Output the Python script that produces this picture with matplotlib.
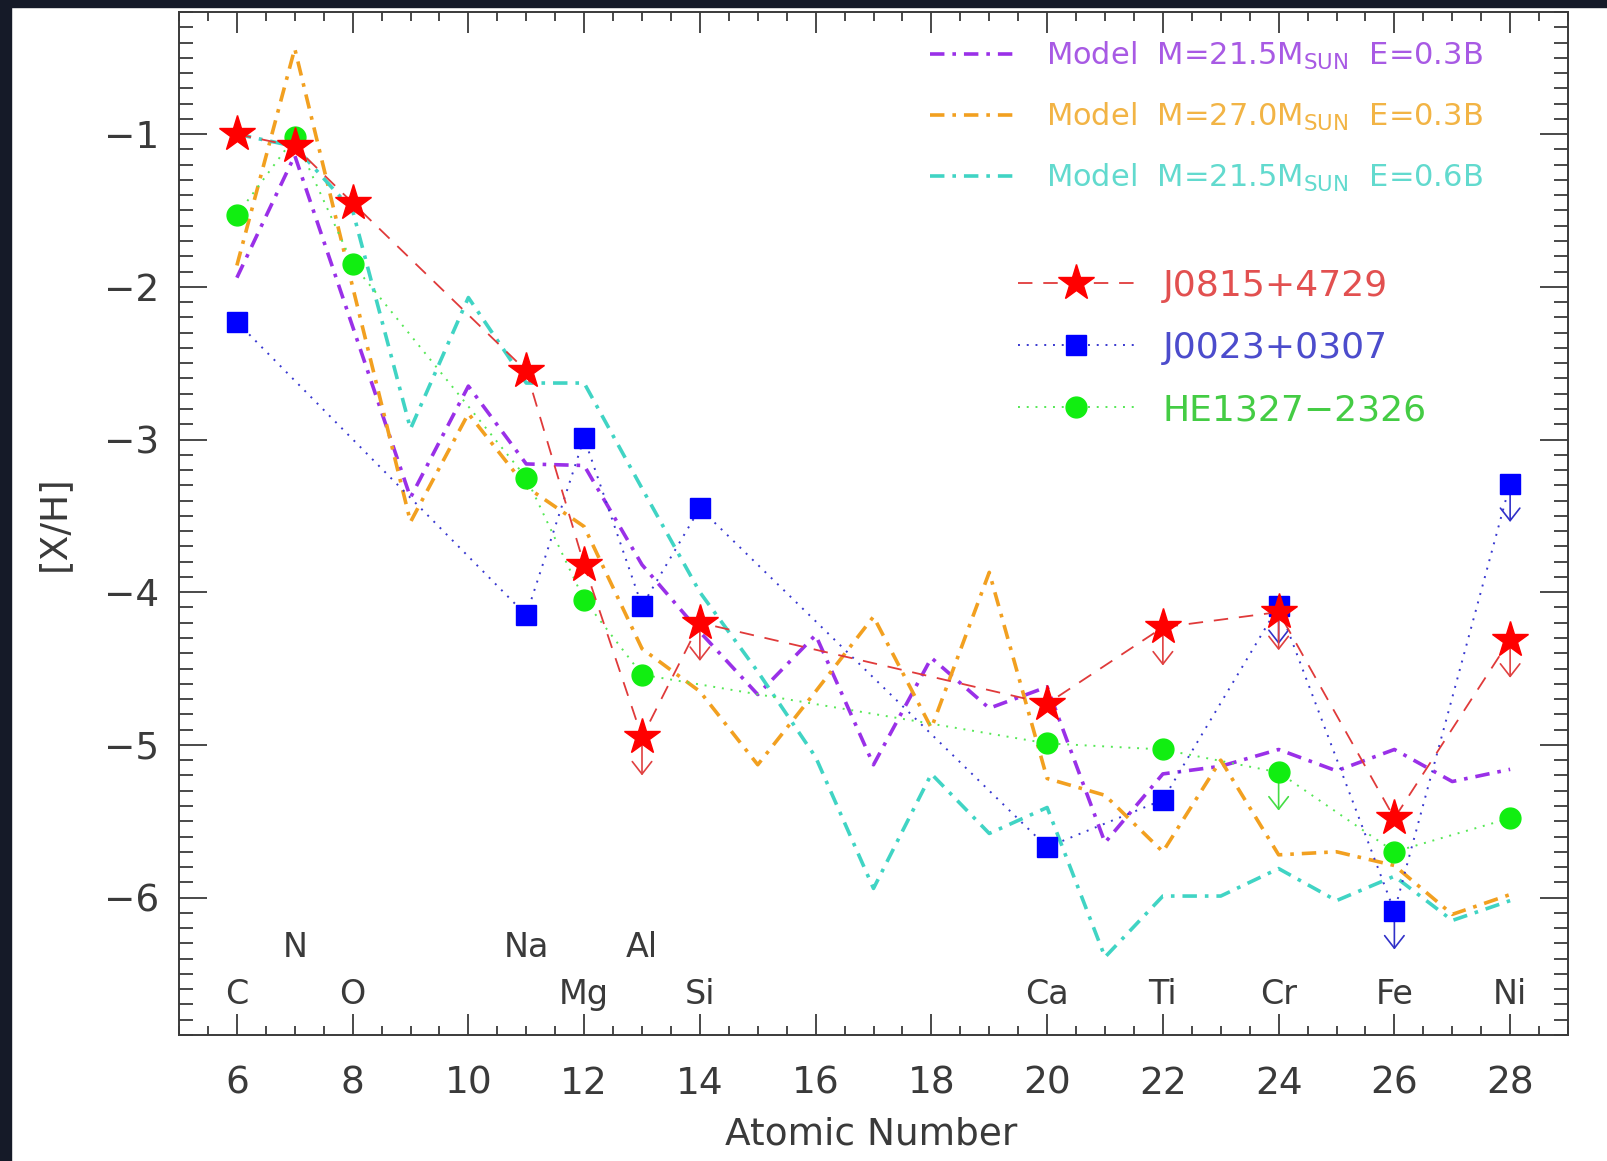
import numpy as np
import matplotlib
matplotlib.use('Agg')
import matplotlib.pyplot as plt
from matplotlib.patches import Rectangle
from matplotlib.ticker import MultipleLocator

# model yields, every Z from 6 to 28
Z_model = np.arange(6, 29)
model_a = [-1.94, -1.14, -2.26, -3.38, -2.65, -3.16, -3.17, -3.82, -4.26, -4.67, -4.28, -5.13,
           -4.43, -4.76, -4.62, -5.64, -5.19, -5.14, -5.03, -5.17, -5.03, -5.24, -5.16]
model_b = [-1.86, -0.44, -2.00, -3.54, -2.83, -3.31, -3.57, -4.37, -4.65, -5.13, -4.65, -4.16,
           -4.89, -3.87, -5.22, -5.33, -5.70, -5.10, -5.72, -5.70, -5.79, -6.11, -5.98]
model_c = [-1.00, -1.08, -1.50, -2.93, -2.07, -2.63, -2.63, -3.32, -4.00, -4.52, -5.08, -5.94,
           -5.19, -5.58, -5.41, -6.39, -5.99, -5.99, -5.81, -6.02, -5.86, -6.15, -6.02]

model_labels = [r'Model  M=21.5M$_{\mathrm{SUN}}$  E=0.3B',
                r'Model  M=27.0M$_{\mathrm{SUN}}$  E=0.3B',
                r'Model  M=21.5M$_{\mathrm{SUN}}$  E=0.6B']

# stars
Z_j0815 = [6, 7, 8, 11, 12, 13, 14, 20, 22, 24, 26, 28]
j0815 = [-1.00, -1.08, -1.45, -2.55, -3.82, -4.95, -4.20, -4.73, -4.23, -4.13, -5.48, -4.31]
j0815_lim = [0, 0, 0, 0, 0, 1, 1, 0, 1, 1, 0, 1]

Z_j0023 = [6, 11, 12, 13, 14, 20, 22, 24, 26, 28]
j0023 = [-2.23, -4.15, -2.99, -4.09, -3.45, -5.67, -5.36, -4.09, -6.09, -3.29]
j0023_lim = [0, 0, 0, 0, 0, 0, 0, 1, 1, 1]

Z_he1327 = [6, 7, 8, 11, 12, 13, 20, 22, 24, 26, 28]
he1327 = [-1.53, -1.02, -1.85, -3.25, -4.05, -4.54, -4.99, -5.03, -5.18, -5.70, -5.48]
he1327_lim = [0, 0, 0, 0, 0, 0, 0, 0, 1, 0, 0]

# element names along the bottom
el_names = ['C', 'N', 'O', 'Na', 'Mg', 'Al', 'Si', 'Ca', 'Ti', 'Cr', 'Fe', 'Ni']
el_Z = [6, 7, 8, 11, 12, 13, 14, 20, 22, 24, 26, 28]
el_row = [0, 1, 0, 1, 0, 1, 0, 0, 0, 0, 0, 0]

txt = '#3a3a3a'
fig = plt.figure(figsize=(16.07, 11.61), dpi=100)
fig.patch.set_facecolor('white')
# dark frame edges of the screenshot
fig.patches.append(Rectangle((0, 0), 11/1607, 1, transform=fig.transFigure, color='#151a28', zorder=-5))
fig.patches.append(Rectangle((0, 1-7/1161), 1, 7/1161, transform=fig.transFigure, color='#151a28', zorder=-5))

ax = fig.add_axes([179/1607, 1-1035/1161, 1389/1607, 1023/1161])

# models
mod_style = dict(lw=2.6, dashes=(4, 2.2, 1, 2.2), dash_capstyle='butt')
la, = ax.plot(Z_model, model_a, color='#9a30e8', zorder=2, **mod_style)
lb, = ax.plot(Z_model, model_b, color='#f2a020', zorder=2, **mod_style)
lc, = ax.plot(Z_model, model_c, color='#40d4c4', zorder=2, **mod_style)

# observed stars
lg, = ax.plot(Z_he1327, he1327, color='#55e855', lw=1.4, ls=(0, (1, 3.5)),
              marker='o', ms=15, mfc='#11ee11', mec='#11ee11', zorder=4)
lbl, = ax.plot(Z_j0023, j0023, color='#3838d0', lw=1.4, ls=(0, (1, 3.5)),
               marker='s', ms=14.5, mfc='#0000ff', mec='#0000ff', zorder=4)
lr, = ax.plot(Z_j0815, j0815, color='#e03a3a', lw=1.3, ls=(0, (8, 6)),
              marker='*', ms=27, mfc='#ff0000', mec='#ff0000', zorder=5)

# upper limits
for zz, vv, lim, col in [(Z_he1327, he1327, he1327_lim, '#44dd44'),
                         (Z_j0023, j0023, j0023_lim, '#3030c8'),
                         (Z_j0815, j0815, j0815_lim, '#e04040')]:
    for z, v, l in zip(zz, vv, lim):
        if l:
            ax.annotate('', xy=(z, v - 0.25), xytext=(z, v),
                        arrowprops=dict(arrowstyle='->,head_length=0.45,head_width=0.35',
                                        color=col, lw=1.2, shrinkA=0, shrinkB=0,
                                        mutation_scale=20), zorder=3)

for name, z, row in zip(el_names, el_Z, el_row):
    ax.text(z, -6.39 if row else -6.70, name, ha='center', va='baseline',
            fontsize=24, color=txt)

ax.set_xlim(5, 29)
ax.set_ylim(-6.9, -0.2)
ax.xaxis.set_major_locator(MultipleLocator(2))
ax.xaxis.set_minor_locator(MultipleLocator(0.5))
ax.yaxis.set_major_locator(MultipleLocator(1))
ax.yaxis.set_minor_locator(MultipleLocator(0.1))
ax.tick_params(axis='both', which='both', direction='in', top=True, right=True,
               color=txt, width=1.3, labelsize=27, labelcolor=txt)
ax.tick_params(axis='x', which='major', length=15, pad=22)
ax.tick_params(axis='x', which='minor', length=6.5)
ax.tick_params(axis='y', which='major', length=20, pad=14)
ax.tick_params(axis='y', which='minor', length=10)
for sp in ax.spines.values():
    sp.set_color(txt)
    sp.set_linewidth(1.4)

ax.set_xlabel('Atomic Number', fontsize=27, color=txt)
ax.xaxis.set_label_coords(0.498, -0.08)
ax.set_ylabel('[X/H]', fontsize=27, color=txt)
ax.yaxis.set_label_coords(-0.077, 0.5)

leg1 = ax.legend([la, lb, lc], model_labels, loc='upper left', bbox_to_anchor=(0.5407, 0.973),
                 frameon=False, fontsize=22, handlelength=2.8, handletextpad=1.0,
                 labelspacing=0.95, borderpad=0, borderaxespad=0)
for t, c in zip(leg1.get_texts(), ['#a85ae4', '#f2b445', '#62dace']):
    t.set_color(c)
ax.add_artist(leg1)

leg2 = ax.legend([lr, lbl, lg], ['J0815+4729', 'J0023+0307', 'HE1327\u22122326'],
                 loc='upper left', bbox_to_anchor=(0.604, 0.749), frameon=False,
                 fontsize=26, handlelength=3.2, handletextpad=0.8, labelspacing=0.78,
                 numpoints=1, borderpad=0, borderaxespad=0)
for t, c in zip(leg2.get_texts(), ['#e25050', '#4c4ccc', '#44cc44']):
    t.set_color(c)

fig.savefig('out.png', dpi=100, facecolor='white')
